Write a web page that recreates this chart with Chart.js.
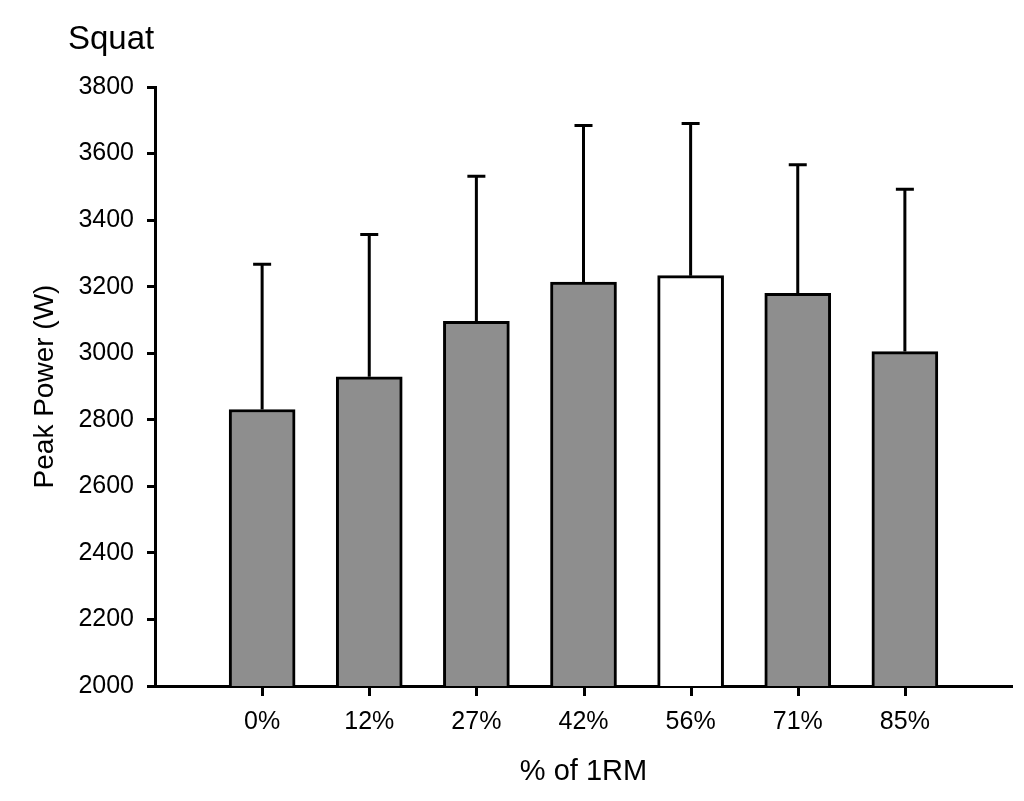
<!DOCTYPE html>
<html>
<head>
<meta charset="utf-8">
<script src="https://cdn.jsdelivr.net/npm/chart.js@4/dist/chart.umd.min.js"></script>
<style>
  html, body { margin: 0; padding: 0; background: #fff; }
  #wrap { width: 1024px; height: 801px; }
</style>
</head>
<body>
<div id="wrap"><canvas id="chart" width="1024" height="801"></canvas></div>
<script>
// data
const categories = ["0%", "12%", "27%", "42%", "56%", "71%", "85%"];
const peakPower = [2831, 2929, 3096, 3214, 3233, 3180, 3005];
const peakPowerSD = [436, 428, 436, 470, 457, 386, 488];
const yTicks = [2000, 2200, 2400, 2600, 2800, 3000, 3200, 3400, 3600, 3800];
const whiteBar = "56%";

const FONT = "'Liberation Sans', Arial, Helvetica, sans-serif";
const INK = "#000";

// empty slot on both ends so the bars sit off the axis like the original
const labels = ["", ...categories, ""];
const values = [null, ...peakPower, null];
const sds = [null, ...peakPowerSD, null];
const fills = labels.map((c) => (c === whiteBar ? "#ffffff" : "#8e8e8e"));

// error bars (upper only), x tick marks, panel title
const extras = {
  id: "extras",
  afterDatasetsDraw(chart) {
    const ctx = chart.ctx;
    const yScale = chart.scales.y;
    const meta = chart.getDatasetMeta(0);
    ctx.save();
    ctx.strokeStyle = INK;
    ctx.lineWidth = 3;
    meta.data.forEach((bar, i) => {
      if (values[i] == null) return;
      const yTop = yScale.getPixelForValue(values[i] + sds[i]);
      ctx.beginPath();
      ctx.moveTo(bar.x, bar.y);
      ctx.lineTo(bar.x, yTop);
      ctx.moveTo(bar.x - 9, yTop);
      ctx.lineTo(bar.x + 9, yTop);
      ctx.stroke();
    });
    ctx.restore();
  },
  afterDraw(chart) {
    const ctx = chart.ctx;
    const xScale = chart.scales.x;
    ctx.save();
    ctx.strokeStyle = INK;
    ctx.lineWidth = 3;
    labels.forEach((lab, i) => {
      if (lab === "") return;
      const x = Math.round(xScale.getPixelForTick(i)) + 0.5;
      ctx.beginPath();
      ctx.moveTo(x, xScale.top);
      ctx.lineTo(x, xScale.top + 10);
      ctx.stroke();
    });
    ctx.fillStyle = INK;
    ctx.font = "33px " + FONT;
    ctx.textAlign = "left";
    ctx.textBaseline = "alphabetic";
    ctx.fillText("Squat", 68, 49);
    ctx.restore();
  },
};

new Chart(document.getElementById("chart"), {
  type: "bar",
  data: {
    labels,
    datasets: [
      {
        data: values,
        backgroundColor: fills,
        borderColor: INK,
        borderWidth: 3,
        borderSkipped: "bottom",
        barThickness: 66,
      },
    ],
  },
  options: {
    responsive: false,
    animation: false,
    devicePixelRatio: 1,
    layout: { padding: { top: 87, right: 10, bottom: 0, left: 0 } },
    plugins: { legend: { display: false }, tooltip: { enabled: false } },
    scales: {
      x: {
        offset: false,
        afterFit: (s) => { s.height = 115; },
        border: { display: true, color: INK, width: 3 },
        grid: { display: false, drawOnChartArea: false, tickLength: 9 },
        ticks: {
          color: INK,
          font: { family: FONT, size: 25 },
          padding: 12,
          maxRotation: 0,
          autoSkip: false,
        },
        title: {
          display: true,
          text: "% of 1RM",
          color: INK,
          font: { family: FONT, size: 29, lineHeight: 1.2 },
          padding: { top: 0, bottom: 12 },
        },
      },
      y: {
        min: yTicks[0],
        max: yTicks[yTicks.length - 1],
        afterFit: (s) => { s.width = 155; },
        afterBuildTicks: (s) => { s.ticks = yTicks.map((v) => ({ value: v })); },
        border: { display: true, color: INK, width: 3 },
        grid: { drawOnChartArea: false, tickLength: 8, lineWidth: 3, color: INK },
        ticks: {
          color: INK,
          font: { family: FONT, size: 25 },
          padding: 13,
          callback: (v) => String(v),
        },
        title: {
          display: true,
          text: "Peak Power (W)",
          color: INK,
          font: { family: FONT, size: 28, lineHeight: 1.2 },
          padding: { top: 28, bottom: 0 },
        },
      },
    },
  },
  plugins: [extras],
});
</script>
</body>
</html>
